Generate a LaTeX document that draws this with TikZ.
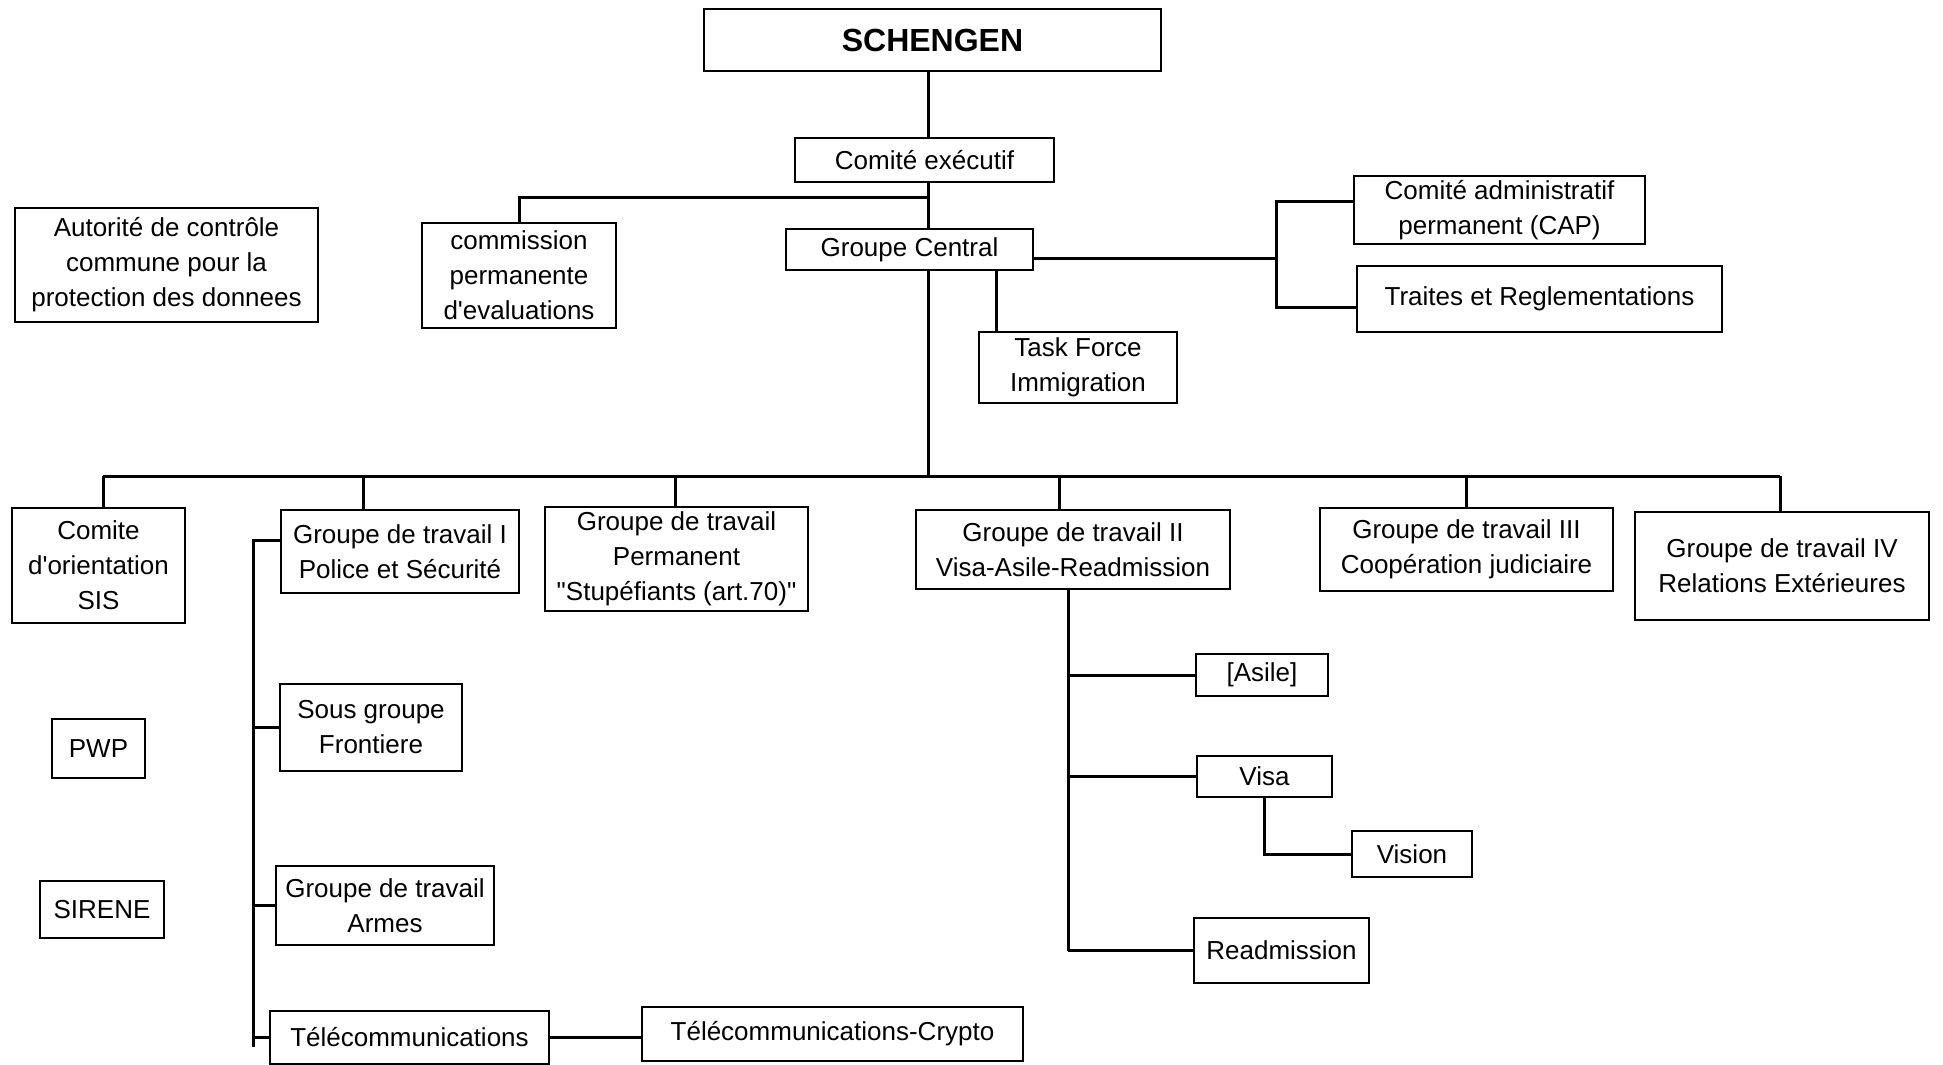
\documentclass[tikz,border=0pt]{standalone}
\usepackage{fontspec}
\setmainfont{Liberation Sans}[Ligatures=TeXOff]
\begin{document}
\begin{tikzpicture}[x=1pt,y=-1pt,
  box/.style={draw,line width=1.8pt,inner sep=0pt,align=center,font=\fontsize{26}{35}\selectfont},
  conn/.style={line width=3pt}]
\useasboundingbox[fill=white] (0,0) rectangle (1943,1065);
% boxes
\node[box,minimum width=457pt,minimum height=62pt,font=\fontsize{32}{38}\selectfont\bfseries] (schengen) at (932.5,40) {SCHENGEN};
\node[box,minimum width=259pt,minimum height=44pt] (comite) at (924.5,160) {Comité exécutif};
\node[box,minimum width=303pt,minimum height=114pt] (autorite) at (166.5,265) {Autorité de contrôle\\commune pour la\\protection des donnees};
\node[box,minimum width=194pt,minimum height=105pt] (commission) at (519,275.5) {commission\\permanente\\d'evaluations};
\node[box,minimum width=247pt,minimum height=41pt] (central) at (909.5,249.5) {Groupe Central};
\node[box,minimum width=291pt,minimum height=68pt] (cap) at (1499.5,210) {Comité administratif\\permanent (CAP)};
\node[box,minimum width=365pt,minimum height=66pt] (traites) at (1539.5,299) {Traites et Reglementations};
\node[box,minimum width=198pt,minimum height=71pt] (task) at (1078,367.5) {Task Force\\Immigration};
\node[box,minimum width=173pt,minimum height=115pt] (sis) at (98.5,565.5) {Comite\\d'orientation\\SIS};
\node[box,minimum width=238pt,minimum height=83pt] (g1) at (400,551.5) {Groupe de travail I\\Police et Sécurité};
\node[box,minimum width=263pt,minimum height=104pt] (stup) at (676.5,559) {Groupe de travail\\Permanent\\"Stupéfiants (art.70)"};
\node[box,minimum width=314pt,minimum height=79pt] (g2) at (1073,549.5) {Groupe de travail II\\Visa-Asile-Readmission};
\node[box,minimum width=293pt,minimum height=83pt] (g3) at (1466.5,549.5) {Groupe de travail III\\Coopération judiciaire};
\node[box,minimum width=294pt,minimum height=108pt] (g4) at (1782,566) {Groupe de travail IV\\Relations Extérieures};
\node[box,minimum width=93pt,minimum height=59pt] (pwp) at (98.5,748.5) {PWP};
\node[box,minimum width=124pt,minimum height=57pt] (sirene) at (102,909.5) {SIRENE};
\node[box,minimum width=182pt,minimum height=87pt] (frontiere) at (371,727.5) {Sous groupe\\Frontiere};
\node[box,minimum width=218pt,minimum height=79pt] (armes) at (385,905.5) {Groupe de travail\\Armes};
\node[box,minimum width=279pt,minimum height=53pt] (telecom) at (409.5,1037.5) {Télécommunications};
\node[box,minimum width=381pt,minimum height=54pt] (crypto) at (832.5,1034) {Télécommunications-Crypto};
\node[box,minimum width=132pt,minimum height=42pt] (asile) at (1262,675) {[Asile]};
\node[box,minimum width=135pt,minimum height=41pt] (visa) at (1264.5,776.5) {Visa};
\node[box,minimum width=120pt,minimum height=46pt] (vision) at (1412,854) {Vision};
\node[box,minimum width=175pt,minimum height=65pt] (readm) at (1281.5,950.5) {Readmission};
% helper coordinates
\coordinate (tk) at (928,0);
\coordinate (j1) at (928,197);
\coordinate (bus) at (928,476);
\coordinate (tf) at (996,0);
\coordinate (rj) at (1276,258);
\coordinate (rjcap) at (1276,201);
\coordinate (rjtr) at (1276,307);
\coordinate (g1y) at (0,540);
\coordinate (vg1) at (253,0);
\coordinate (vg1end) at (253,1047);
\coordinate (vg2) at (1068,0);
\coordinate (bl) at (103,476);
\coordinate (br) at (1780,476);
\coordinate (d1) at (103,476);
\coordinate (d2) at (363,476);
\coordinate (d3) at (675,476);
\coordinate (d4) at (1059,476);
\coordinate (d5) at (1466,476);
\coordinate (d6) at (1780,476);
% connectors
\draw[conn] (schengen.south -| tk) -- (comite.north -| tk);
\draw[conn] (comite.south -| tk) -- (central.north -| tk);
\draw[conn] (j1) -| (commission.north);
\draw[conn] (central.south -| tk) -- (bus);
\draw[conn] (bl) -- (br);
\draw[conn] (d1) -- (d1 |- sis.north);
\draw[conn] (d2) -- (d2 |- g1.north);
\draw[conn] (d3) -- (d3 |- stup.north);
\draw[conn] (d4) -- (d4 |- g2.north);
\draw[conn] (d5) -- (d5 |- g3.north);
\draw[conn] (d6) -- (d6 |- g4.north);
\draw[conn] (tf |- central.south) -- (tf |- task.north);
\draw[conn] (central.east |- rj) -- (rj);
\draw[conn] (cap.west |- rjcap) -- (rjcap) -- (rjtr) -- (traites.west |- rjtr);
\draw[conn] (g1.west |- g1y) -- (vg1 |- g1y) -- (vg1end);
\draw[conn] (frontiere.west -| vg1) -- (frontiere.west);
\draw[conn] (armes.west -| vg1) -- (armes.west);
\draw[conn] (telecom.west -| vg1) -- (telecom.west);
\draw[conn] (telecom.east) -- (telecom.east -| crypto.west);
\draw[conn] (vg2 |- g2.south) -- (vg2 |- readm.west);
\draw[conn] (asile.west -| vg2) -- (asile.west);
\draw[conn] (visa.west -| vg2) -- (visa.west);
\draw[conn] (readm.west -| vg2) -- (readm.west);
\draw[conn] (visa.south) |- (vision.west);
\end{tikzpicture}
\end{document}
